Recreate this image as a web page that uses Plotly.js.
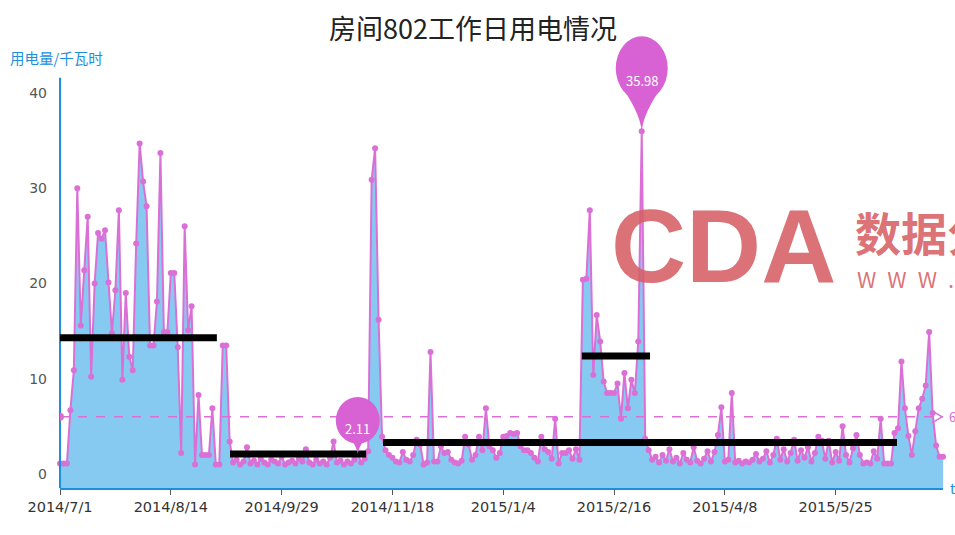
<!DOCTYPE html>
<html>
<head>
<meta charset="utf-8">
<script src="https://cdn.plot.ly/plotly-3.0.1.min.js"></script>
<style>html,body{margin:0;padding:0;background:#fff;overflow:hidden}#chart{width:955px;height:535px}</style>
</head>
<body>
<div id="chart"></div>
<script>
// ---- data ----
const monthNames = ["2014/7","2014/8","2014/9","2014/10","2014/11","2014/12","2015/1","2015/2","2015/3","2015/4","2015/5","2015/6","2015/7"];
const monthDays = [
  [1,2,3,4,7,8,9,10,11,14,15,16,17,18,21,22,23,24,25,28,29,30,31],
  [1,4,5,6,7,8,11,12,13,14,15,18,19,20,21,22,25,26,27,28,29],
  [1,2,3,4,5,9,10,11,12,15,16,17,18,19,22,23,24,25,26,28,29,30],
  [8,9,10,11,13,14,15,16,17,20,21,22,23,24,27,28,29,30,31],
  [3,4,5,6,7,10,11,12,13,14,17,18,19,20,21,24,25,26,27,28],
  [1,2,3,4,5,8,9,10,11,12,15,16,17,18,19,22,23,24,25,26,29,30,31],
  [4,5,6,7,8,9,12,13,14,15,16,19,20,21,22,23,26,27,28,29,30],
  [2,3,4,5,6,9,10,11,12,13,15,16,17,25,26,27,28],
  [2,3,4,5,6,9,10,11,12,13,16,17,18,19,20,23,24,25,26,27,30,31],
  [1,2,3,7,8,9,10,13,14,15,16,17,20,21,22,23,24,27,28,29,30],
  [4,5,6,7,8,11,12,13,14,15,18,19,20,21,22,25,26,27,28,29],
  [1,2,3,4,5,8,9,10,11,12,15,16,17,18,19,23,24,25,26,29,30],
  [1,2,3,6,7,8]
];
const usage = [
  1.1,1.1,1.1,6.7,10.9,30.0,15.6,21.4,27.0,10.2,
  20.0,25.3,24.7,25.6,20.1,14.8,19.3,27.7,9.9,19.0,
  12.3,10.9,24.2,34.7,30.7,28.1,13.5,13.5,18.1,33.7,
  14.9,14.9,21.1,21.1,13.3,2.2,26.0,15.1,17.6,1.0,
  8.3,2.0,2.0,2.0,6.9,1.0,1.0,13.5,13.5,3.4,
  1.2,1.5,1.0,1.3,2.8,1.1,1.4,1.0,1.6,1.2,
  1.0,1.5,1.3,1.1,1.8,1.0,1.2,1.4,1.1,1.6,
  1.3,2.6,1.2,1.0,1.5,1.1,1.3,1.0,1.7,3.4,
  1.2,1.4,1.0,1.3,1.1,1.5,2.11,1.2,1.6,2.4,
  30.9,34.2,16.2,3.9,2.5,2.0,1.7,1.3,1.2,2.3,
  1.5,1.3,2.0,3.6,3.1,1.0,1.2,12.8,1.3,1.3,
  2.9,2.2,2.3,1.5,1.2,1.1,1.4,3.9,3.1,1.5,
  2.0,3.9,2.5,6.9,2.9,2.5,1.7,2.2,3.9,4.0,
  4.3,4.2,4.3,2.9,2.5,2.5,2.2,1.7,1.3,3.9,
  2.6,2.3,1.6,5.8,1.1,2.2,2.2,2.5,1.6,2.6,
  1.5,
  20.4,20.5,27.7,10.4,16.7,13.9,9.7,8.5,8.5,8.5,
  9.5,5.8,10.6,6.9,9.9,8.5,13.9,35.98,3.7,
  2.5,1.5,1.8,1.2,2.0,1.4,2.6,1.3,1.7,1.1,
  2.2,1.5,1.2,2.8,1.4,1.1,1.6,2.4,1.3,2.3,
  4.1,7.0,1.3,1.5,8.5,1.2,1.4,1.1,1.3,1.2,
  1.5,2.1,1.3,1.6,2.4,1.2,2.0,3.7,1.5,2.6,
  1.3,2.2,3.6,1.4,2.5,1.7,2.8,1.3,2.2,3.9,
  3.5,1.6,3.5,1.2,2.3,1.4,5.0,2.0,1.2,2.7,
  4.1,2.0,1.1,1.2,1.1,2.4,1.6,
  5.8,1.1,1.1,1.1,4.3,4.8,11.8,6.9,4.0,2.0,
  4.5,6.9,7.9,9.3,14.9,6.4,3.0,1.8,1.8
];
const tickLabels = ["2014/7/1","2014/8/14","2014/9/29","2014/11/18","2015/1/4","2015/2/16","2015/4/8","2015/5/25"];
const yTicks = [0,10,20,30,40];
const minPinIndex = 86;
// hand-drawn period levels (category index span, level)
const periodStart = [-1.4, 49.1, 93.3, 150.7];
const periodEnd   = [45.3, 88.4, 241.7, 170.4];
const periodLevel = [14.3, 2.1, 3.3, 12.4];

// ---- build ----
const dates = [];
monthNames.forEach((m,k)=>monthDays[k].forEach(d=>dates.push(m+"/"+d)));
const N = usage.length;
const yMin = -1.47, yMax = 46.61, yAxisTop = 41.6;
const baseline = dates.map(()=>yMin);
const mean = usage.reduce((a,b)=>a+b,0)/N;
let maxIdx = 0; usage.forEach((v,i)=>{ if(v>usage[maxIdx]) maxIdx=i; });

const FONT = '"Noto Sans CJK SC", "Noto Sans", sans-serif';
const NUMFONT = '"DejaVu Sans", sans-serif';
const C = '#DA70D6';
const PIN = '#d862d4';
const BLUE = '#1e8fdc';

const traces = [
  {x: dates, y: baseline, mode:'lines', line:{width:0, color:'rgba(0,0,0,0)'}, hoverinfo:'skip', showlegend:false},
  {x: dates, y: usage, mode:'lines+markers', fill:'tonexty', fillcolor:'#86caf2',
   line:{color:C, width:2}, marker:{color:C, size:6}, cliponaxis:false, showlegend:false}
];

const shapes = [];
// y axis line (stops at the axis top, below the plot-area top)
shapes.push({type:'line', xref:'paper', yref:'y', x0:0, x1:0, y0:yMin, y1:yAxisTop, line:{color:BLUE, width:2}});
// mean line
shapes.push({type:'line', xref:'x', yref:'y', x0:0, x1:N-1, y0:mean, y1:mean, line:{color:C, width:1.5, dash:'dash'}});
shapes.push({type:'circle', xref:'x', yref:'y', xsizemode:'pixel', ysizemode:'pixel', xanchor:0, yanchor:mean, x0:-4, x1:4, y0:-4, y1:4, fillcolor:C, line:{width:0}});
shapes.push({type:'path', xref:'x', yref:'y', xsizemode:'pixel', ysizemode:'pixel', xanchor:N-1, yanchor:mean, path:'M -11,6 L -1,0 L -11,-6', fillcolor:'rgba(0,0,0,0)', line:{color:C, width:1.5}});
// period bars
for (let k=0;k<periodStart.length;k++){
  shapes.push({type:'line', xref:'x', yref:'y', x0:periodStart[k], x1:periodEnd[k], y0:periodLevel[k], y1:periodLevel[k], line:{color:'#000', width:7}});
}
// pins
function pin(idx, val, rx, e0, e1, tw, th){
  shapes.push({type:'circle', xref:'x', yref:'y', xsizemode:'pixel', ysizemode:'pixel', xanchor:idx, yanchor:val, x0:-rx, x1:rx, y0:e0, y1:e1, fillcolor:PIN, line:{width:0}, layer:'above'});
  shapes.push({type:'path', xref:'x', yref:'y', xsizemode:'pixel', ysizemode:'pixel', xanchor:idx, yanchor:val,
    path:`M ${-tw},${th} C ${-tw*0.4},${th*0.6} -1.5,${th*0.3} 0,0 C 1.5,${th*0.3} ${tw*0.4},${th*0.6} ${tw},${th} Z`, fillcolor:PIN, line:{width:0}, layer:'above'});
}
pin(maxIdx, usage[maxIdx], 26, 31, 95, 21, 46);
pin(minPinIndex, usage[minPinIndex], 22, 10, 57, 17, 28);

const WM = 'rgba(214,95,100,0.88)';
const annotations = [
  {xref:'x', yref:'y', x:maxIdx, y:usage[maxIdx], yshift:51, text:usage[maxIdx].toFixed(2), showarrow:false, font:{family:FONT, size:13, color:'#fff'}},
  {xref:'x', yref:'y', x:minPinIndex, y:usage[minPinIndex], yshift:25, text:usage[minPinIndex].toFixed(2), showarrow:false, font:{family:FONT, size:13, color:'#fff'}},
  {xref:'x', yref:'y', x:N-1, y:mean, xshift:4, xanchor:'left', text:mean.toFixed(2), showarrow:false, font:{family:FONT, size:13, color:C}},
  {xref:'paper', yref:'y', x:-52/883, y:yAxisTop, yshift:20, xanchor:'left', yanchor:'middle', text:'用电量/千瓦时', showarrow:false, font:{family:FONT, size:14.5, color:BLUE}},
  {xref:'paper', yref:'paper', x:1, y:0, xshift:5, xanchor:'left', yanchor:'middle', text:'time', showarrow:false, font:{family:FONT, size:14, color:BLUE}},
  // watermark
  {xref:'paper', yref:'y', x:(609-60)/883, y:0, yshift:474-246, xanchor:'left', yanchor:'middle', text:'<b>CDA</b>', showarrow:false, font:{family:'"Liberation Sans", Arial, sans-serif', size:104, color:WM}},
  {xref:'paper', yref:'y', x:(853-60)/883, y:0, yshift:474-231, xanchor:'left', yanchor:'middle', text:'<b>数据分析</b>', showarrow:false, font:{family:FONT, size:46, color:WM}},
  {xref:'paper', yref:'y', x:(855-60)/883, y:0, yshift:474-278, xanchor:'left', yanchor:'middle', text:'W\u2002W\u2002W\u2002.\u2002C\u2002D\u2002A', showarrow:false, font:{family:FONT, size:22, color:WM}}
];

const layout = {
  width:955, height:535,
  margin:{l:60, r:12, t:30, b:47, pad:0},
  paper_bgcolor:'#fff', plot_bgcolor:'#fff',
  title:{text:'房间802工作日用电情况', x:473/955, xanchor:'center', y:1-30/535, yanchor:'middle', font:{family:FONT, size:27, color:'#222'}},
  xaxis:{type:'category', range:[0, N-1], showline:true, linecolor:BLUE, linewidth:2, ticks:'outside', ticklen:5, tickcolor:'#555',
    tickmode:'array', tickvals:tickLabels, ticktext:tickLabels, tickangle:0, tickfont:{family:NUMFONT, size:14.5, color:'#333'}, showgrid:false, zeroline:false},
  yaxis:{range:[yMin, yMax], tickmode:'array', tickvals:yTicks, showline:false, ticks:'', ticklabelstandoff:12,
    tickfont:{family:NUMFONT, size:14, color:'#555'}, showgrid:false, zeroline:false},
  shapes:shapes, annotations:annotations, showlegend:false
};
Plotly.newPlot('chart', traces, layout, {displayModeBar:false, staticPlot:true});
</script>
</body>
</html>
